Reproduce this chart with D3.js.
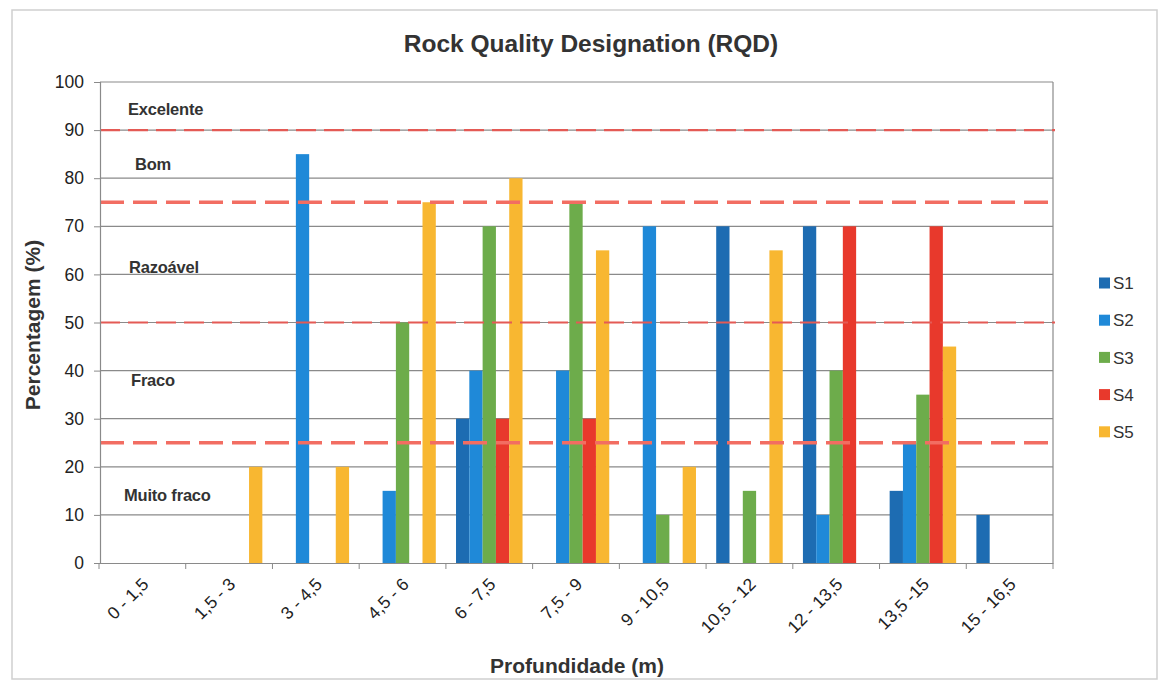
<!DOCTYPE html>
<html><head><meta charset="utf-8">
<script src="https://cdn.jsdelivr.net/npm/d3@7/dist/d3.min.js"></script>
<style>
html,body{margin:0;padding:0;background:#fff;}
text{font-family:"Liberation Sans",Arial,sans-serif;}
</style></head>
<body>
<svg id="chart" width="1160" height="681"></svg>
<script>
const categories = ["0 - 1,5","1,5 - 3","3 - 4,5","4,5 - 6","6 - 7,5","7,5 - 9","9 - 10,5","10,5 - 12","12 - 13,5","13,5 -15","15 - 16,5"];
const seriesNames = ["S1","S2","S3","S4","S5"];
const S1 = [0,0,0,0,30,0,0,70,70,15,10];
const S2 = [0,0,85,15,40,40,70,0,10,25,0];
const S3 = [0,0,0,50,70,75,10,15,40,35,0];
const S4 = [0,0,0,0,30,30,0,0,70,70,0];
const S5 = [0,20,20,75,80,65,20,65,0,45,0];
const seriesColors = ["#1D6CB2","#1F89D8","#6DAC4B","#E8392C","#F8B731"];
const yTicks = [0,10,20,30,40,50,60,70,80,90,100];
const thresholds = [90,75,50,25];
const zoneLabels = ["Excelente","Bom","Razoável","Fraco","Muito fraco"];
const zoneLabelValues = [94.3,83,61.5,38,14];

const seriesValues = [S1,S2,S3,S4,S5];
const svg = d3.select("#chart");
const m = {left:100, right:1053, top:82, bottom:563};

// outer frame
svg.append("rect").attr("x",12).attr("y",10).attr("width",1145).attr("height",669)
  .attr("fill","none").attr("stroke","#cfcfcf").attr("stroke-width",1.5);

const x0 = d3.scaleBand().domain(categories).range([m.left-1, m.right]).paddingInner(0).paddingOuter(0);
const x1 = d3.scaleBand().domain(seriesNames).range([0, x0.bandwidth()]).paddingInner(0).paddingOuter(0.76);
const y = d3.scaleLinear().domain([0,100]).range([m.bottom, m.top]);

// gridlines
svg.append("g").selectAll("line").data(yTicks.filter(d=>d>0)).join("line")
  .attr("x1",m.left).attr("x2",m.right).attr("y1",d=>y(d)).attr("y2",d=>y(d))
  .attr("stroke","#8a8a8a").attr("stroke-width",1.2);
// right border
svg.append("line").attr("x1",m.right).attr("x2",m.right).attr("y1",m.top).attr("y2",m.bottom)
  .attr("stroke","#8a8a8a").attr("stroke-width",1.2);

// bars
const data = [];
categories.forEach((c,i)=>seriesNames.forEach((s,j)=>data.push({c, s, v:seriesValues[j][i], color:seriesColors[j]})));
svg.append("g").selectAll("rect").data(data.filter(d=>d.v>0)).join("rect")
  .attr("x",d=>x0(d.c)+x1(d.s)).attr("width",x1.bandwidth())
  .attr("y",d=>y(d.v)).attr("height",d=>y(0)-y(d.v))
  .attr("fill",d=>d.color);

// threshold lines
svg.append("g").selectAll("line").data(thresholds).join("line")
  .attr("x1",m.left).attr("x2",m.right+2).attr("y1",d=>y(d)).attr("y2",d=>y(d))
  .attr("stroke",(d,i)=> i%2===0 ? "#E45A55" : "#F26D62")
  .attr("stroke-width",(d,i)=> i%2===0 ? 2.2 : 3.5)
  .attr("stroke-dasharray",(d,i)=> i%2===0 ? "20,8" : "24,9");

// y axis
const yAxis = d3.axisLeft(y).tickValues(yTicks).tickSize(6).tickPadding(10);
const gy = svg.append("g").attr("transform",`translate(${m.left},0)`).call(yAxis);
gy.select(".domain").attr("stroke","#8a8a8a").attr("stroke-width",1.2);
gy.selectAll(".tick line").attr("stroke","#8a8a8a");
gy.selectAll(".tick text").attr("font-size",17.5).attr("fill","#222").attr("font-family","Liberation Sans, Arial, sans-serif");

// x axis
const xAxis = d3.axisBottom(x0).tickSize(0).tickFormat("");
const gx = svg.append("g").attr("transform",`translate(0,${m.bottom})`).call(xAxis);
gx.select(".domain").attr("stroke","#8a8a8a").attr("stroke-width",1.2);
gx.selectAll(".bound").data(categories.concat(["__end"])).join("line")
  .attr("x1",(d,i)=> i<categories.length ? x0(d) : m.right)
  .attr("x2",(d,i)=> i<categories.length ? x0(d) : m.right)
  .attr("y1",0).attr("y2",6).attr("stroke","#8a8a8a");
svg.append("g").selectAll("text").data(categories).join("text")
  .attr("transform",d=>`translate(${x0(d)+x0.bandwidth()/2+3},${m.bottom+18}) rotate(-45)`)
  .attr("text-anchor","end").attr("dy","0.35em")
  .attr("font-size",17.5).attr("fill","#222").text(d=>d);

// zone labels
const zoneX = [128,135,129,131,124];
svg.append("g").selectAll("text").data(zoneLabels).join("text")
  .attr("x",(d,i)=>zoneX[i]).attr("y",(d,i)=>y(zoneLabelValues[i]))
  .attr("dy","0.35em").attr("font-size",16.5).attr("font-weight","bold").attr("fill","#333")
  .attr("letter-spacing","-0.2")
  .text(d=>d);

// title
svg.append("text").attr("x",591).attr("y",52).attr("text-anchor","middle")
  .attr("font-size",24.5).attr("font-weight","bold").attr("fill","#333")
  .text("Rock Quality Designation (RQD)");
// axis titles
svg.append("text").attr("transform","translate(40,325) rotate(-90)").attr("text-anchor","middle")
  .attr("font-size",21).attr("font-weight","bold").attr("fill","#333").text("Percentagem (%)");
svg.append("text").attr("x",577).attr("y",673).attr("text-anchor","middle")
  .attr("font-size",21).attr("font-weight","bold").attr("fill","#333").text("Profundidade (m)");

// legend
const lg = svg.append("g").selectAll("g").data(seriesNames).join("g")
  .attr("transform",(d,i)=>`translate(1099,${283+i*37.2})`);
lg.append("rect").attr("x",0).attr("y",-5.5).attr("width",11).attr("height",11)
  .attr("fill",(d,i)=>seriesColors[i]);
lg.append("text").attr("x",14).attr("y",0).attr("dy","0.36em").attr("font-size",17).attr("fill","#333").text(d=>d);
</script>
</body></html>
